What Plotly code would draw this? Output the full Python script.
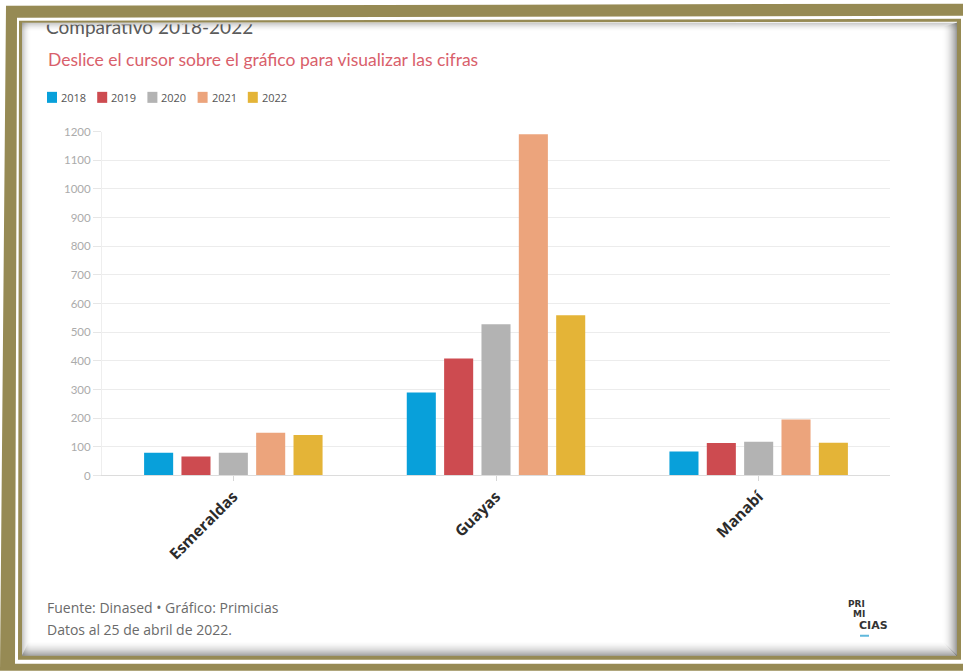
import plotly.graph_objects as go

# ---- data -------------------------------------------------------------
provinces = ["Esmeraldas", "Guayas", "Manabí"]
years = ["2018", "2019", "2020", "2021", "2022"]
values_2018 = [79, 290, 84]
values_2019 = [66, 408, 113]
values_2020 = [79, 528, 118]
values_2021 = [149, 1191, 195]
values_2022 = [141, 559, 114]
series_values = [values_2018, values_2019, values_2020, values_2021, values_2022]
y_ticks = list(range(0, 1201, 100))

colors = ["#08a0da", "#cd4b50", "#b3b3b3", "#eca47c", "#e4b437"]

W, H = 963, 671
FONT = "Lato, 'Source Sans Pro', 'Open Sans', sans-serif"
WIDE = "'Open Sans', sans-serif"
OLIVE = "#968a54"

# vertical layout helpers: card coordinates in pixels -> paper fraction
Y_OFF, Y_SCALE = 7.3, 0.979


def px(x):
    return x / W


def py(y):
    return 1 - ((y - Y_OFF) / Y_SCALE) / H


def poly(points):
    pts = [f"{px(x)},{py(y)}" for x, y in points]
    return "M" + " L".join(pts) + " Z"


fig = go.Figure()

for name, vals, col in zip(years, series_values, colors):
    fig.add_trace(go.Bar(
        x=provinces, y=vals, name=name, marker=dict(color=col, line_width=0),
        showlegend=False, hovertemplate="%{x}<br>" + name + ": %{y}<extra></extra>",
    ))

# header text on a full-page axis so the card frame can overlap it
fig.add_trace(go.Scatter(
    x=[px(46)], y=[py(30)], mode="text", text=["Comparativo 2018-2022"],
    textposition="middle right", textfont=dict(family=FONT, size=19, color="#5c5c5c"),
    xaxis="x2", yaxis="y2", showlegend=False, hoverinfo="skip", cliponaxis=False,
))

shapes = []
annotations = []

# legend entries
for i, (name, col) in enumerate(zip(years, colors)):
    x0 = 47 + 50.2 * i
    shapes.append(dict(type="rect", xref="paper", yref="paper",
                       x0=px(x0), x1=px(x0 + 10), y0=py(103), y1=py(92),
                       fillcolor=col, line_width=0, layer="above"))
    annotations.append(dict(xref="paper", yref="paper", x=px(x0 + 12), y=py(98),
                            text=name, showarrow=False, xanchor="left", yanchor="middle",
                            font=dict(family=WIDE, size=11, color="#555555")))

annotations += [
    dict(xref="paper", yref="paper", x=px(46), y=py(60), xanchor="left", yanchor="middle",
         text="Deslice el cursor sobre el gráfico para visualizar las cifras", showarrow=False,
         font=dict(family=FONT, size=17.5, color="#d9606b")),
    dict(xref="paper", yref="paper", x=px(45), y=py(607), xanchor="left", yanchor="middle",
         text="Fuente: Dinased • Gráfico: Primicias", showarrow=False,
         font=dict(family=WIDE, size=14, color="#6a6a6a")),
    dict(xref="paper", yref="paper", x=px(45), y=py(629), xanchor="left", yanchor="middle",
         text="Datos al 25 de abril de 2022.", showarrow=False,
         font=dict(family=WIDE, size=14, color="#6a6a6a")),
    # logo
    dict(xref="paper", yref="paper", x=px(867), y=py(603), xanchor="right", yanchor="middle",
         text="<b>PRI</b>", showarrow=False, font=dict(family="DejaVu Sans", size=9, color="#333333")),
    dict(xref="paper", yref="paper", x=px(867), y=py(613), xanchor="right", yanchor="middle",
         text="<b>MI</b>", showarrow=False, font=dict(family="DejaVu Sans", size=9, color="#333333")),
    dict(xref="paper", yref="paper", x=px(857), y=py(625), xanchor="left", yanchor="middle",
         text="<b>CIAS</b>", showarrow=False, font=dict(family="DejaVu Sans", size=11, color="#333333")),
]
shapes.append(dict(type="line", xref="paper", yref="paper", x0=px(860), x1=px(869),
                   y0=py(635), y1=py(635), line=dict(color="#5fb8dc", width=2), layer="above"))

# ---- card frame -------------------------------------------------------
visible = [(22, 25), (957, 23), (957, 655), (22, 655)]   # white card area
inner = [(22, 23), (957, 22), (957, 655), (22, 655)]     # inner edge of the thin band
shapes.append(dict(type="path", xref="paper", yref="paper", layer="above", fillrule="evenodd",
                   path=poly([(0, -20), (W, -20), (W, 700), (0, 700)]) + " " + poly(visible),
                   fillcolor="white", line_width=0))
shapes.append(dict(type="path", xref="paper", yref="paper", layer="above", fillrule="evenodd",
                   path=poly([(6, 6), (W, 4), (W, 670), (0, 670)]) + " " +
                   poly([(17, 18), (W, 16), (W, 663), (15, 663)]),
                   fillcolor=OLIVE, line_width=0))
shapes.append(dict(type="path", xref="paper", yref="paper", layer="above", fillrule="evenodd",
                   path=poly([(19, 21), (961, 19), (961, 659), (18, 659)]) + " " + poly(inner),
                   fillcolor=OLIVE, line_width=0))

# inner shadow of the card
for i in range(15):
    a = 0.5 * (1 - i / 15) ** 2
    c = f"rgba(60,60,60,{a:.3f})"
    shapes.append(dict(type="line", xref="paper", yref="paper", layer="above",
                       x0=px(956.5 - i), x1=px(956.5 - i), y0=py(23 + i * 0.3), y1=py(655 - i),
                       line=dict(color=c, width=1)))
    shapes.append(dict(type="line", xref="paper", yref="paper", layer="above",
                       x0=px(22 + i * 0.5), x1=px(957 - i), y0=py(654.5 - i), y1=py(654.5 - i),
                       line=dict(color=c, width=1)))
for i in range(9):
    a = 0.28 * (1 - i / 9) ** 2
    c = f"rgba(60,60,60,{a:.3f})"
    shapes.append(dict(type="line", xref="paper", yref="paper", layer="above",
                       x0=px(22.5 + i), x1=px(22.5 + i), y0=py(23), y1=py(655),
                       line=dict(color=c, width=1)))
    shapes.append(dict(type="line", xref="paper", yref="paper", layer="above",
                       x0=px(22), x1=px(957), y0=py(23.5 + i), y1=py(23.5 + i),
                       line=dict(color=c, width=1)))

fig.update_layout(
    width=W, height=H,
    margin=dict(l=0, r=0, t=0, b=0),
    paper_bgcolor="white", plot_bgcolor="rgba(0,0,0,0)",
    barmode="group", bargap=0.289, bargroupgap=0.222,
    showlegend=False,
    shapes=shapes, annotations=annotations,
    font=dict(family=FONT),
    xaxis=dict(domain=[px(102), px(890)], anchor="y", type="category",
               tickangle=-45, tickfont=dict(family=WIDE, size=15.5, color="#2b2b2b", weight="bold"),
               ticks="outside", ticklen=5, tickcolor="#d6d6d6", showgrid=False,
               showline=True, linecolor="#dcdcdc", linewidth=1, zeroline=False, fixedrange=True),
    yaxis=dict(domain=[py(475), py(131.7)], anchor="x", range=[0, 1200],
               tickvals=y_ticks, ticktext=[str(v) for v in y_ticks],
               tickfont=dict(family=FONT, size=11.5, color="#ababab"),
               ticks="outside", ticklen=8, tickcolor="#e6e6e6",
               showline=True, linecolor="#eeeeee", linewidth=1,
               gridcolor="#ececec", gridwidth=1, zeroline=False, fixedrange=True),
    xaxis2=dict(domain=[0, 1], range=[0, 1], anchor="y2", visible=False, fixedrange=True),
    yaxis2=dict(domain=[0, 1], range=[0, 1], anchor="x2", visible=False, fixedrange=True),
)

# page backdrop: white at the top edge, olive at the bottom edge
page_bg = f"linear-gradient(#ffffff 50%, {OLIVE} 50%)"
fig.write_html(
    "out.html",
    post_script="document.body.style.margin='0';"
                "document.body.style.background='transparent';"
                f"document.documentElement.style.minHeight='100%';"
                f"document.documentElement.style.background='{page_bg}';",
)
